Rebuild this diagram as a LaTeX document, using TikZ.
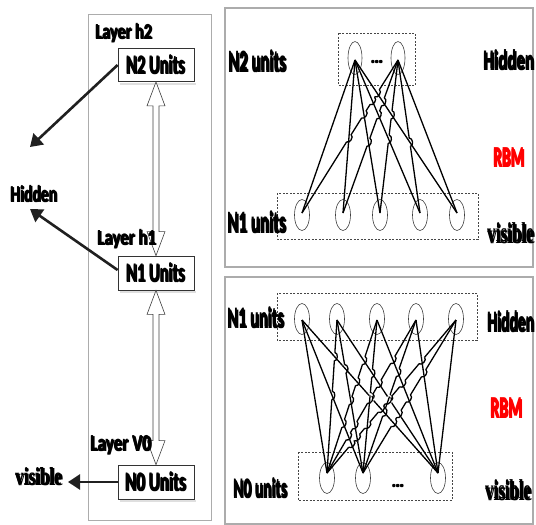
\documentclass[tikz,border=0pt]{standalone}
\usepackage{fontspec}
\usetikzlibrary{shapes.geometric,arrows.meta,calc}
\newfontfamily\lblfont{Carlito}
\newfontfamily\visfont{Liberation Serif}
% overprint a text with a small shift to make it heavier
\newcommand{\heavy}[1]{\rlap{#1}\rlap{\raisebox{0.4pt}{#1}}\kern0.8pt#1}
% squeeze a label into a given width and height (in pt)
\newcommand{\fitlab}[3]{\resizebox{#1pt}{#2pt}{\heavy{#3}}}
% line #1--#2 jumps over line #3--#4 where they cross
\newcommand{\hop}[4]{%
  \coordinate (X) at (intersection of #1--#2 and #3--#4);
  \fill[white] (X) circle (4.2pt);
  \draw[wire] ($(X)!4.2pt!(#3)$) -- ($(X)!4.2pt!(#4)$);
  \draw[wire] ($(X)!4.2pt!(#1)$) to[bend left=90, looseness=1.1] ($(X)!4.2pt!(#2)$);
}

\begin{document}
\begin{tikzpicture}[x=1pt,y=-1pt,
  txt/.style={anchor=base west, inner sep=0pt, font=\lblfont\bfseries},
  vtxt/.style={anchor=base west, inner sep=0pt, font=\visfont\bfseries},
  unitbox/.style={draw=gray!40!black, line width=0.8pt, minimum width=76pt,
    minimum height=33pt, inner sep=0pt, fill=white, font=\lblfont\bfseries},
  panel/.style={draw=gray!65, line width=1.3pt},
  grp/.style={draw=gray!55!black, line width=0.7pt, dash pattern=on 2pt off 1.5pt},
  neuron/.style={ellipse, draw=gray!50!black, line width=0.6pt,
    minimum width=15pt, minimum height=31pt, inner sep=0pt},
  wire/.style={line width=1.3pt, black},
  ptr/.style={draw=gray!25!black, line width=2.6pt,
    -{Triangle[length=12pt,width=15pt]}},
  hollow/.style={draw=gray!50!black, line width=0.6pt, fill=white},
  boxshade/.style={fill=gray!25}
]
\useasboundingbox (0,0) rectangle (536,525);

% ---------------- left: stacked layers ----------------
\draw[panel, line width=1pt] (88,14) rectangle (211,520);

\node[unitbox] (n2) at (156,65)  {\fitlab{60}{20}{N2 Units}};
\node[unitbox, minimum height=34pt] (n1) at (156,273) {\fitlab{60}{20}{N1 Units}};
\node[unitbox, minimum height=34pt] (n0) at (156,482) {\fitlab{62}{20}{N0 Units}};
% faint shade under each unit box
\foreach \n in {n2,n1,n0}{
  \fill[boxshade] ($(\n.south west)+(2,1)$) rectangle ($(\n.south east)+(2,3)$);
}

% hollow two-headed arrows between the layers
\foreach \a/\b in {n2/n1, n1/n0}{
  \draw[hollow] (\a.south) -- ($(\a.south)+(9,24)$) -- ($(\a.south)+(3,24)$)
    -- ($(\b.north)+(3,-24)$) -- ($(\b.north)+(9,-24)$) -- (\b.north)
    -- ($(\b.north)+(-9,-24)$) -- ($(\b.north)+(-3,-24)$)
    -- ($(\a.south)+(-3,24)$) -- ($(\a.south)+(-9,24)$) -- cycle;
}

\node[txt] (lh2) at (95,39) {\fitlab{58}{16}{Layer h2}};
\node[txt] (lh1) at (97,245) {\fitlab{60}{16}{Layer h1}};
\node[txt] (lv0) at (90,451) {\fitlab{62}{16}{Layer V0}};

\node[txt] (hidL) at (10,202) {\fitlab{48}{17}{Hidden}};
\node[vtxt] (visL) at (15,485) {\fitlab{48}{18}{visible}};

\coordinate (tipA) at (30,147);
\coordinate (tipB) at (30,209);
\coordinate (tipC) at (68,482);
\draw[ptr] (n2.west) -- (tipA);
\draw[ptr] ($(n1.west)+(0,-3)$) -- (tipB);
\draw[ptr] (n0.west) -- (tipC);

% ---------------- right top: RBM between N2 and N1 ----------------
\draw[panel] (225,8) rectangle (533,267);

\draw[grp] (338,33) rectangle (415,85);
\draw[grp] (277,193) rectangle (478,239);

\node[neuron, minimum width=14pt, minimum height=33pt] (th1) at (355,58) {};
\node[neuron, minimum width=14pt, minimum height=33pt] (th2) at (398,58) {};
\node[font=\lblfont\bfseries, inner sep=0pt] (tdots) at (377,62) {\fitlab{13}{4}{...}};

\foreach \i/\x in {1/302,2/343,3/380,4/420,5/457}{
  \node[neuron] (tv\i) at (\x,215) {};
  \coordinate (tvp\i) at ($(tv\i.center)+(0,-2)$);
}
\coordinate (thp1) at ($(th1.center)+(0,2)$);
\coordinate (thp2) at ($(th2.center)+(0,2)$);
\foreach \h in {1,2}{
  \foreach \i in {1,...,5}{
    \draw[wire] (thp\h) -- (tvp\i);
  }
}
% wires from the second hidden unit jump over those from the first
\foreach \i in {2,...,5}{
  \foreach \j in {1,...,5}{
    \ifnum\j<\i \hop{thp2}{tvp\j}{thp1}{tvp\i}\fi
  }
}

\node[txt] (tn2) at (228,72) {\fitlab{59}{22}{N2 units}};
\node[txt] (tn1) at (227,233) {\fitlab{60}{22}{N1 units}};
\node[txt] (thid) at (483,70) {\fitlab{52}{20}{Hidden}};
\node[txt, text=red] (trbm) at (493,167) {\fitlab{32}{19}{RBM}};
\node[vtxt] (tvis) at (487,243) {\fitlab{48}{20}{visible}};

% ---------------- right bottom: RBM between N1 and N0 ----------------
\draw[panel] (225,277) rectangle (533,524);

\draw[grp] (277,293) rectangle (477,340);
\draw[grp] (298,452) rectangle (452,500);

\foreach \i/\x in {1/302,2/337,3/377,4/416,5/456}{
  \node[neuron] (bh\i) at (\x,319) {};
  \coordinate (bhp\i) at ($(bh\i.center)+(0,1)$);
}
\foreach \i/\x in {1/327,2/363,3/438}{
  \node[neuron] (bv\i) at (\x,478) {};
  \coordinate (bvp\i) at ($(bv\i.center)+(0,-5)$);
}
\node[font=\lblfont\bfseries, inner sep=0pt] (bdots) at (398,486) {\fitlab{13}{4}{...}};

\foreach \i in {1,...,5}{
  \foreach \j in {1,2,3}{
    \draw[wire] (bhp\i) -- (bvp\j);
  }
}
% a wire from a unit further right jumps over the wires it crosses
\foreach \a in {1,...,4}{
  \foreach \b in {2,...,5}{
    \ifnum\a<\b
      \foreach \p/\q in {2/1,3/1,3/2}{
        \hop{bhp\b}{bvp\q}{bhp\a}{bvp\p}
      }
    \fi
  }
}

\node[txt] (bn1) at (227,328) {\fitlab{58}{21}{N1 units}};
\node[txt] (bn0) at (233,498) {\fitlab{55}{20}{N0 units}};
\node[txt] (bhid) at (487,332) {\fitlab{48}{21}{Hidden}};
\node[txt, text=red] (brbm) at (490,418) {\fitlab{33}{20}{RBM}};
\node[vtxt] (bvis) at (485,500) {\fitlab{47}{20}{visible}};
\end{tikzpicture}
\end{document}
